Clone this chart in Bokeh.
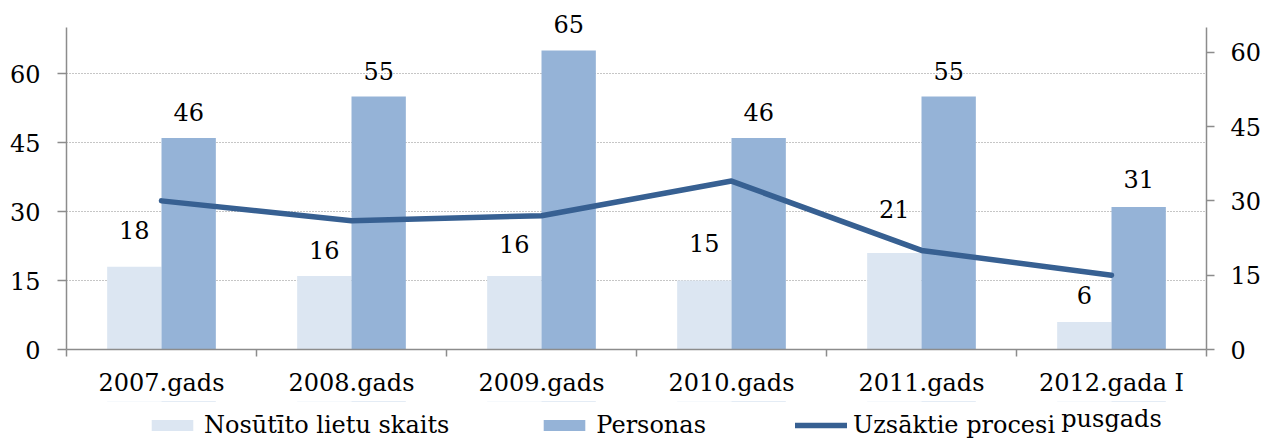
from bokeh.plotting import figure
from bokeh.layouts import column
from bokeh.models import (FactorRange, Range1d, LinearAxis, CategoricalAxis, FixedTicker,
                          ColumnDataSource, Legend, LegendItem, CustomJSTickFormatter)
from bokeh.transform import dodge
from bokeh.core.properties import value
from bokeh.embed import file_html
from bokeh.resources import INLINE

# ---- data ----
categories = ["2007.gads", "2008.gads", "2009.gads", "2010.gads", "2011.gads", "2012.gada I\npusgads"]
nosutito = [18, 16, 16, 15, 21, 6]
personas = [46, 55, 65, 46, 55, 31]
uzsaktie = [30, 26, 27, 34, 20, 15]
left_ticks = [0, 15, 30, 45, 60]
right_ticks = [0, 15, 30, 45, 60]
left_max, right_max = 70, 65
series_names = ["Nosūtīto lietu skaits", "Personas", "Uzsāktie procesi"]

# ---- style ----
light_label_lift = [37, 26, 32, 38, 44, 27]   # px above bar top
dark_label_lift = [26, 26, 27, 26, 26, 28]

FONT = "DejaVu Serif"
FS = "24px"
LIGHT = "#DCE6F2"
DARK = "#95B3D7"
LINE = "#376092"
GREY = "#8C8C8C"

W, H = 1264, 441
TOP_PAD = 27          # px between canvas top and the axes' maximum
PLOT_H = 322          # px from 0 to the axes' maximum
FRAME_H = TOP_PAD + PLOT_H
BW = 0.286

src = ColumnDataSource(dict(
    cat=categories, n=nosutito, p=personas, u=uzsaktie,
    n_lbl=[str(v) for v in nosutito], p_lbl=[str(v) for v in personas],
    n_off=[-v for v in light_label_lift], p_off=[-v for v in dark_label_lift],
))

p = figure(x_range=FactorRange(*categories),
           y_range=Range1d(0, left_max * FRAME_H / PLOT_H),
           width=W, height=H, output_backend="svg", toolbar_location=None,
           x_axis_location=None, y_axis_location=None,
           min_border_left=66, min_border_right=56, min_border_top=0,
           min_border_bottom=H - FRAME_H)
p.extra_y_ranges = {"right": Range1d(0, right_max * FRAME_H / PLOT_H)}
p.outline_line_color = None

p.xgrid.visible = False
p.ygrid.ticker = FixedTicker(ticks=left_ticks[1:])
p.ygrid.grid_line_color = GREY
p.ygrid.grid_line_dash = "1 2"


def draw_series(fig, y_name="default"):
    a = fig.vbar(x=dodge("cat", -BW / 2, range=fig.x_range), top="n", width=BW, source=src,
                 fill_color=LIGHT, line_color=None)
    b = fig.vbar(x=dodge("cat", BW / 2, range=fig.x_range), top="p", width=BW, source=src,
                 fill_color=DARK, line_color=None)
    c = fig.line(x="cat", y="u", y_range_name=y_name, source=src, line_color=LINE,
                 line_width=5.5, line_join="round", line_cap="round")
    return a, b, c


draw_series(p, "right")

for xoff, ycol, tcol, ocol in [(-BW / 2, "n", "n_lbl", "n_off"), (BW / 2, "p", "p_lbl", "p_off")]:
    p.text(x=dodge("cat", xoff, range=p.x_range), y=ycol, text=tcol, y_offset=ocol,
           source=src, text_align="center", text_baseline="middle",
           text_font=value(FONT), text_font_size=FS, text_color="black")


def style_axis(ax):
    ax.axis_line_color = GREY
    ax.axis_line_width = 1.5
    ax.major_tick_line_color = GREY
    ax.major_tick_line_width = 1.5
    ax.major_tick_in = 0
    ax.minor_tick_line_color = None
    ax.major_label_text_font = FONT
    ax.major_label_text_font_size = FS
    ax.major_label_text_color = "black"


left = LinearAxis(ticker=FixedTicker(ticks=left_ticks), bounds=(0, left_max))
style_axis(left)
left.major_tick_out = 9
left.major_label_standoff = 17
p.add_layout(left, "left")

right = LinearAxis(y_range_name="right", ticker=FixedTicker(ticks=right_ticks), bounds=(0, right_max))
style_axis(right)
right.major_tick_out = 8
right.major_label_standoff = 16
p.add_layout(right, "right")

# boundary ticks between categories
edge_axis = LinearAxis(ticker=FixedTicker(ticks=list(range(len(categories) + 1))),
                       formatter=CustomJSTickFormatter(code="return ''"))
style_axis(edge_axis)
edge_axis.major_tick_out = 7
edge_axis.major_label_standoff = 0
edge_axis.major_label_text_font_size = "1px"
p.add_layout(edge_axis, "below")

cat_axis = CategoricalAxis()
style_axis(cat_axis)
cat_axis.axis_line_color = None
cat_axis.major_tick_line_color = None
cat_axis.major_tick_out = 0
cat_axis.major_label_standoff = 12
cat_axis.major_label_text_line_height = 1.3
p.add_layout(cat_axis, "below")

# ---- legend row (overlaps the bottom of the chart, as in the original) ----
LEG_H = 40
lg = figure(width=W, height=LEG_H, output_backend="svg", toolbar_location=None,
            x_axis_location=None, y_axis_location=None,
            min_border_left=0, min_border_right=0, min_border_top=0, min_border_bottom=0,
            x_range=p.x_range, y_range=Range1d(-2, -1), margin=(-LEG_H, 0, 0, 0))
lg.extra_y_ranges = {"right": Range1d(-2, -1)}
lg.outline_line_color = None
lg.background_fill_color = None
lg.border_fill_color = None
lg.grid.visible = False
d1, d2, d3 = draw_series(lg, "right")   # same series, outside this strip's view: legend swatches only

legend = Legend(items=[LegendItem(label=series_names[0], renderers=[d1]),
                       LegendItem(label=series_names[1], renderers=[d2]),
                       LegendItem(label=series_names[2], renderers=[d3])],
                location=(80, 2), orientation="horizontal", spacing=89,
                glyph_width=52, glyph_height=14, label_standoff=6, padding=0, margin=0,
                border_line_color=None, background_fill_alpha=0,
                label_text_font=FONT, label_text_font_size=FS, label_text_color="black")
lg.add_layout(legend, "center")

page = column(p, lg, spacing=0)
open("out.html", "w").write(file_html(page, INLINE))
